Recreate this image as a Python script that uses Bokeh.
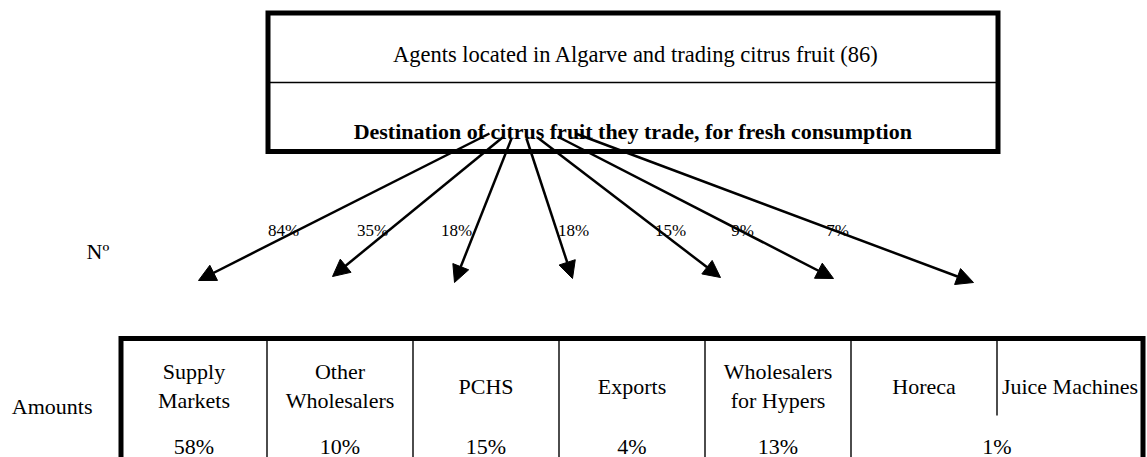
from bokeh.plotting import figure
from bokeh.models import Range1d, Arrow, NormalHead, ColumnDataSource
from bokeh.core.properties import value
from bokeh.embed import file_html
from bokeh.resources import INLINE

# ---------------- data ----------------
header_title = "Agents located in Algarve and trading citrus fruit (86)"
header_subtitle = "Destination of citrus fruit they trade, for fresh consumption"
destinations = ["Supply\nMarkets", "Other\nWholesalers", "PCHS", "Exports",
                "Wholesalers\nfor Hypers", "Horeca", "Juice Machines"]
share_of_agents = ["84%", "35%", "18%", "18%", "15%", "9%", "7%"]   # Nº
share_of_amounts = ["58%", "10%", "15%", "4%", "13%", "1%"]         # Amounts
amount_columns = [[0], [1], [2], [3], [4], [5, 6]]                  # destinations covered by each amount
row_labels = ["Nº", "Amounts"]

# ---------------- layout (pixel space) ----------------
FONT = value("'Liberation Serif', 'Times New Roman', Times, serif")
box_left, box_right, box_top, box_bottom, box_mid = 267.5, 997.5, 12.5, 151.0, 82.0
arrow_start_x = [489, 502, 511, 526, 537, 557, 575]
arrow_start_y = [133, 137, 138, 138, 137, 136, 133]
arrow_end_x = [198, 332, 454, 572, 720, 833, 973]
arrow_end_y = [280, 276, 282, 278, 277, 278, 282]
label_x = [283, 372, 456, 573, 670, 742, 837]
label_y = 230
table_left, col_w, table_top, table_bottom = 120.5, 146.0, 338.0, 470.0
sub_divider_bottom = 415.0

W, H = 1147, 457
p = figure(width=W, height=H, output_backend="svg", toolbar_location=None,
           x_range=Range1d(0, W), y_range=Range1d(H, 0),
           min_border=0, background_fill_color="white", border_fill_color="white")
p.axis.visible = False
p.grid.visible = False
p.outline_line_color = None

# ---- header box ----
p.quad(left=[box_left], right=[box_right], top=[box_top], bottom=[box_bottom],
       fill_color=None, line_color="black", line_width=5, line_join="miter")
p.segment(x0=[box_left], x1=[box_right], y0=[box_mid], y1=[box_mid],
          line_color="black", line_width=1.3)
p.text(x=[(box_left + box_right) / 2 + 3], y=[54], text=[header_title],
       text_font=FONT, text_font_size="22.5px", text_align="center",
       text_baseline="alphabetic", text_color="black")
p.text(x=[(box_left + box_right) / 2], y=[131], text=[header_subtitle],
       text_font=FONT, text_font_size="22px", text_font_style="bold",
       text_align="center", text_baseline="alphabetic", text_color="black")

# ---- arrows ----
asrc = ColumnDataSource(dict(x0=arrow_start_x, y0=arrow_start_y,
                             x1=arrow_end_x, y1=arrow_end_y))
p.add_layout(Arrow(end=NormalHead(size=17, fill_color="black", line_color="black",
                                  line_width=1),
                   x_start="x0", y_start="y0", x_end="x1", y_end="y1",
                   source=asrc, line_color="black", line_width=2.5))
p.text(x=label_x, y=[label_y] * len(label_x), text=share_of_agents,
       text_font=FONT, text_font_size="17px", text_align="center",
       text_baseline="alphabetic", text_color="black")

# ---- row labels ----
p.text(x=[86], y=[251], text=[row_labels[0]], text_font=FONT, text_font_size="22px",
       text_align="left", text_baseline="alphabetic", text_color="black")
p.text(x=[92], y=[406], text=[row_labels[1]], text_font=FONT, text_font_size="22px",
       text_align="right", text_baseline="alphabetic", text_color="black")

# ---- table ----
ncol = len(destinations)
table_right = table_left + ncol * col_w
p.line(x=[table_left, table_left, table_right, table_right],
       y=[table_bottom, table_top, table_top, table_bottom],
       line_color="black", line_width=5, line_join="miter")

# dividers: full height where the amount cells split, short where they merge
div_x, div_y1 = [], []
merged_inner = set()
for cols in amount_columns:
    for c in cols[1:]:
        merged_inner.add(c)
for i in range(1, ncol):
    div_x.append(table_left + i * col_w)
    div_y1.append(sub_divider_bottom if i in merged_inner else table_bottom)
p.segment(x0=div_x, x1=div_x, y0=[table_top] * len(div_x), y1=div_y1,
          line_color="black", line_width=1.4)

# destination names
l1x, l1y, l1t = [], [], []
for i, name in enumerate(destinations):
    cx = table_left + (i + 0.5) * col_w
    lines = name.split("\n")
    if len(lines) == 2:
        l1x += [cx, cx]
        l1y += [371, 400]
        l1t += lines
    else:
        l1x.append(cx)
        l1y.append(385.5)
        l1t.append(lines[0])
p.text(x=l1x, y=l1y, text=l1t, text_font=FONT, text_font_size="22px",
       text_align="center", text_baseline="alphabetic", text_color="black")

# amounts
ax = [table_left + (min(cols) + max(cols) + 1) / 2 * col_w for cols in amount_columns]
p.text(x=ax, y=[445.5] * len(ax), text=share_of_amounts, text_font=FONT,
       text_font_size="22px", text_align="center", text_baseline="alphabetic",
       text_color="black")

open("out.html", "w").write(file_html(p, INLINE))
